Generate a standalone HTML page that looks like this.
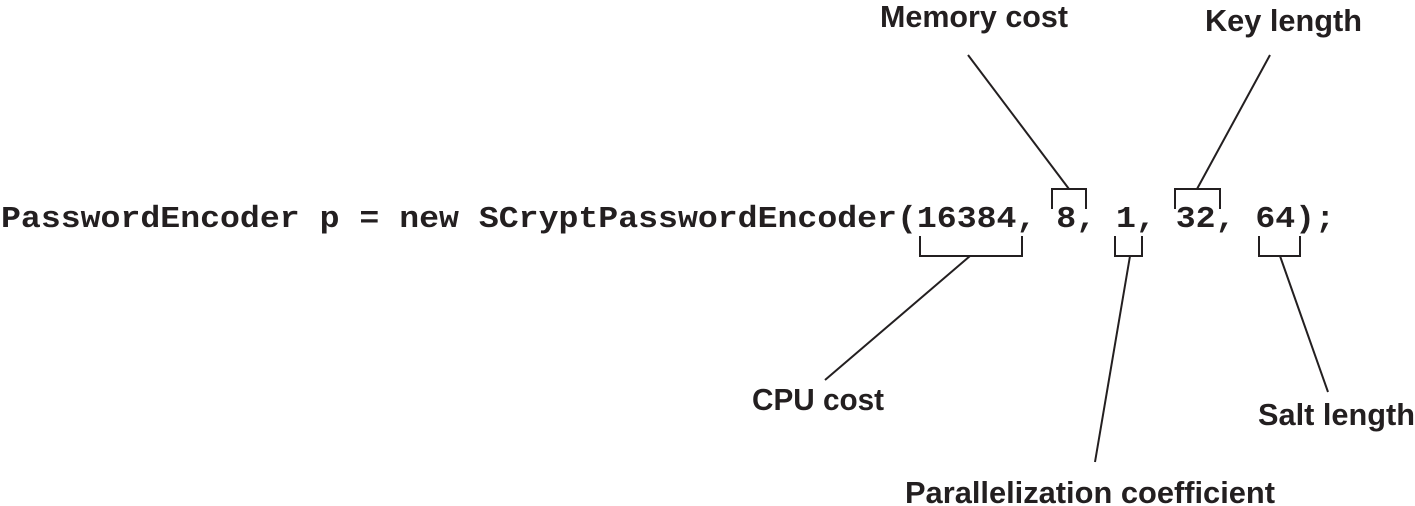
<!DOCTYPE html>
<html><head><meta charset="utf-8"><style>html,body{margin:0;padding:0;background:#fff}svg{display:block}</style></head>
<body>
<svg width="1415" height="506" viewBox="0 0 1415 506" xmlns="http://www.w3.org/2000/svg">
<g font-family="'Liberation Mono', monospace" font-weight="bold" font-size="31" fill="#231f20">
<text x="1" y="227" textLength="1334" lengthAdjust="spacingAndGlyphs" xml:space="preserve">PasswordEncoder p = new SCryptPasswordEncoder(16384, 8, 1, 32, 64);</text>
</g>
<g stroke="#231f20" stroke-width="2" fill="none">
<polyline points="1052,209 1052,189 1086,189 1086,209"/>
<polyline points="1175,209 1175,189 1220,189 1220,209"/>
<polyline points="920,236 920,256 1022,256 1022,236"/>
<polyline points="1115,236 1115,256 1142,256 1142,236"/>
<polyline points="1259,236 1259,256 1300,256 1300,236"/>
<line x1="1069" y1="189" x2="968" y2="55"/>
<line x1="1197" y1="189" x2="1270" y2="55"/>
<line x1="970" y1="256" x2="825" y2="380"/>
<line x1="1130" y1="256" x2="1095" y2="462"/>
<line x1="1280" y1="256" x2="1328" y2="392"/>
</g>
<g font-family="'Liberation Sans', sans-serif" font-weight="bold" font-size="31" fill="#231f20">
<text x="880" y="27" textLength="188" lengthAdjust="spacingAndGlyphs">Memory cost</text>
<text x="1205" y="31" textLength="157" lengthAdjust="spacingAndGlyphs">Key length</text>
<text x="752" y="410" textLength="132" lengthAdjust="spacingAndGlyphs">CPU cost</text>
<text x="1258" y="425" textLength="157" lengthAdjust="spacingAndGlyphs">Salt length</text>
<text x="905" y="503" textLength="370" lengthAdjust="spacingAndGlyphs">Parallelization coefficient</text>
</g>
</svg>
</body></html>
